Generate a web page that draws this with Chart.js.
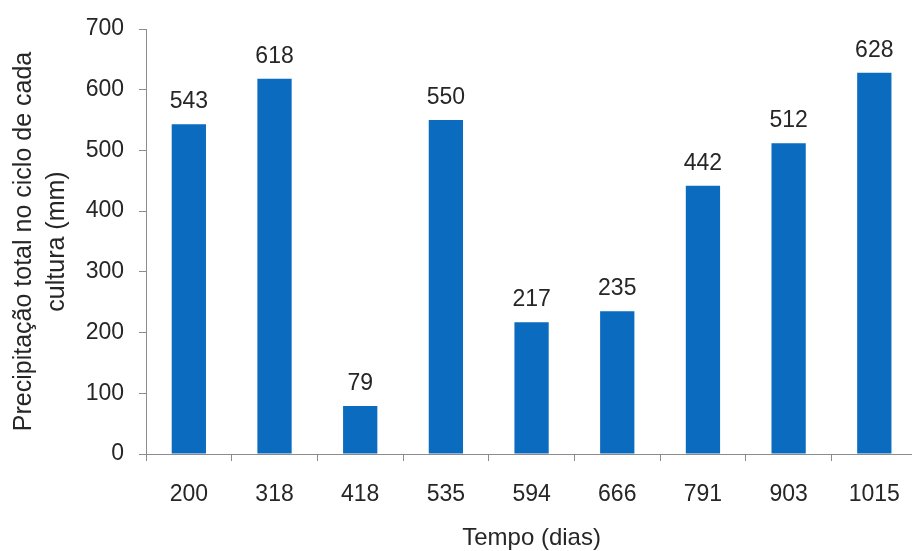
<!DOCTYPE html>
<html>
<head>
<meta charset="utf-8">
<script src="https://cdn.jsdelivr.net/npm/chart.js@4.4.1/dist/chart.umd.min.js"></script>
<style>
  html, body { margin: 0; padding: 0; background: #fff; overflow: hidden; }
  #wrap { width: 920px; height: 551px; }
</style>
</head>
<body>
<div id="wrap"><canvas id="grafico"></canvas></div>
<script>
// Precipitação total por ciclo de cultura
const dias = ['200', '318', '418', '535', '594', '666', '791', '903', '1015'];
const precipitacao = [543, 618, 79, 550, 217, 235, 442, 512, 628];
const yMin = 0, yMax = 700, yPasso = 100;

const corBarra = '#0a6bbf';
const corTexto = '#262626';
const corEixo = '#8c8c8c';
const fonte = 'Liberation Sans, Arial, sans-serif';

// Escreve o valor em cima de cada barra
const rotulosValor = {
    id: 'rotulosValor',
    afterDatasetsDraw(chart) {
        const ctx = chart.ctx;
        const meta = chart.getDatasetMeta(0);
        ctx.save();
        ctx.font = '23px ' + fonte;
        ctx.fillStyle = corTexto;
        ctx.textAlign = 'center';
        ctx.textBaseline = 'alphabetic';
        meta.data.forEach((barra, i) => {
            ctx.fillText(String(precipitacao[i]), barra.x, barra.y - 16);
        });
        ctx.restore();
    }
};

const ctx = document.getElementById('grafico').getContext('2d');
new Chart(ctx, {
    type: 'bar',
    data: {
        labels: dias,
        datasets: [{
            data: precipitacao,
            backgroundColor: corBarra,
            borderWidth: 0,
            categoryPercentage: 1,
            barPercentage: 0.4
        }]
    },
    options: {
        responsive: true,
        maintainAspectRatio: false,
        animation: false,
        layout: { padding: { top: 29, right: 2, left: 0, bottom: 0 } },
        plugins: {
            legend: { display: false },
            tooltip: { enabled: false }
        },
        scales: {
            x: {
                grid: {
                    offset: true,
                    drawOnChartArea: false,
                    drawTicks: true,
                    tickLength: 7,
                    color: corEixo
                },
                border: { color: corEixo, width: 1 },
                ticks: {
                    color: corTexto,
                    font: { family: fonte, size: 23 },
                    padding: 20,
                    maxRotation: 0
                },
                title: {
                    display: true,
                    text: 'Tempo (dias)',
                    color: corTexto,
                    font: { family: fonte, size: 24 },
                    padding: { top: 17, bottom: -2 }
                },
                afterFit(escala) { escala.height = 97; }
            },
            y: {
                min: yMin,
                max: yMax,
                grid: {
                    drawOnChartArea: false,
                    drawTicks: true,
                    tickLength: 7,
                    color: corEixo
                },
                border: { color: corEixo, width: 1 },
                ticks: {
                    stepSize: yPasso,
                    color: corTexto,
                    font: { family: fonte, size: 23 },
                    padding: 15
                },
                title: {
                    display: true,
                    text: ['Precipitação total no ciclo de cada', 'cultura (mm)'],
                    color: corTexto,
                    font: { family: fonte, size: 25, lineHeight: 1.3 },
                    padding: { top: 8, bottom: 0 }
                },
                afterFit(escala) { escala.width = 146; }
            }
        }
    },
    plugins: [rotulosValor]
});
</script>
</body>
</html>
